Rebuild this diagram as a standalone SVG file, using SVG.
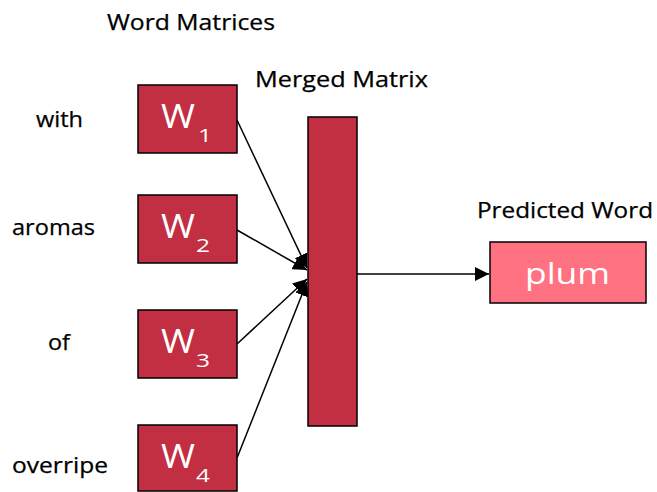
<svg xmlns="http://www.w3.org/2000/svg" width="657" height="492" viewBox="0 0 657 492">
  <style>
    text { font-family: "Open Sans", "Noto Sans", sans-serif; }
    .lbl { font-size: 21px; fill: #000; stroke: #000; stroke-width: 0.25; }
    .mat { fill: #C22E42; stroke: #000; stroke-width: 1.5; }
    .out { fill: #FE7282; stroke: #000; stroke-width: 1.5; }
    .wt { font-size: 33px; fill: #fff; }
    .sub { font-size: 19px; fill: #fff; }
    .pl { font-size: 30px; fill: #fff; }
    .edge { stroke: #000; stroke-width: 1.5; fill: none; marker-end: url(#arrow); }
  </style>
  <defs>
    <marker id="arrow" viewBox="0 0 10 10" refX="10" refY="5" markerWidth="14" markerHeight="14" markerUnits="userSpaceOnUse" orient="auto">
      <path d="M0,0 L10,5 L0,10 z" fill="#000"/>
    </marker>
  </defs>

  <text class="lbl" x="107" y="30" textLength="168" lengthAdjust="spacingAndGlyphs">Word Matrices</text>
  <text class="lbl" x="255" y="87" textLength="173" lengthAdjust="spacingAndGlyphs">Merged Matrix</text>
  <text class="lbl" x="477" y="218" textLength="176" lengthAdjust="spacingAndGlyphs">Predicted Word</text>

  <g id="connectors">
    <line class="edge" x1="237" y1="120" x2="307" y2="268"/>
    <line class="edge" x1="237" y1="230" x2="307" y2="270"/>
    <line class="edge" x1="237" y1="344" x2="307" y2="279"/>
    <line class="edge" x1="237" y1="458" x2="307" y2="282"/>
    <line class="edge" x1="357" y1="274" x2="489" y2="274"/>
  </g>

  <g id="w1">
    <text class="lbl" x="36" y="127" textLength="47" lengthAdjust="spacingAndGlyphs">with</text>
    <rect class="mat" x="138" y="85" width="99" height="68"/>
    <text class="wt" x="161" y="128" textLength="34" lengthAdjust="spacingAndGlyphs">W</text>
    <text class="sub" x="198" y="142" textLength="14" lengthAdjust="spacingAndGlyphs">1</text>
  </g>
  <g id="w2">
    <text class="lbl" x="12" y="235" textLength="83" lengthAdjust="spacingAndGlyphs">aromas</text>
    <rect class="mat" x="138" y="195" width="99" height="68"/>
    <text class="wt" x="161" y="238" textLength="34" lengthAdjust="spacingAndGlyphs">W</text>
    <text class="sub" x="196" y="252" textLength="14" lengthAdjust="spacingAndGlyphs">2</text>
  </g>
  <g id="w3">
    <text class="lbl" x="48" y="350" textLength="22" lengthAdjust="spacingAndGlyphs">of</text>
    <rect class="mat" x="138" y="310" width="99" height="68"/>
    <text class="wt" x="161" y="353" textLength="34" lengthAdjust="spacingAndGlyphs">W</text>
    <text class="sub" x="196" y="367" textLength="14" lengthAdjust="spacingAndGlyphs">3</text>
  </g>
  <g id="w4">
    <text class="lbl" x="12" y="473" textLength="96" lengthAdjust="spacingAndGlyphs">overripe</text>
    <rect class="mat" x="138" y="425" width="99" height="66"/>
    <text class="wt" x="161" y="468" textLength="34" lengthAdjust="spacingAndGlyphs">W</text>
    <text class="sub" x="196" y="482" textLength="14" lengthAdjust="spacingAndGlyphs">4</text>
  </g>

  <g id="merged">
    <rect class="mat" x="308" y="117" width="49" height="309"/>
  </g>

  <g id="predicted">
    <rect class="out" x="490" y="242" width="156" height="61"/>
    <text class="pl" x="525" y="284" textLength="85" lengthAdjust="spacingAndGlyphs">plum</text>
  </g>
</svg>
